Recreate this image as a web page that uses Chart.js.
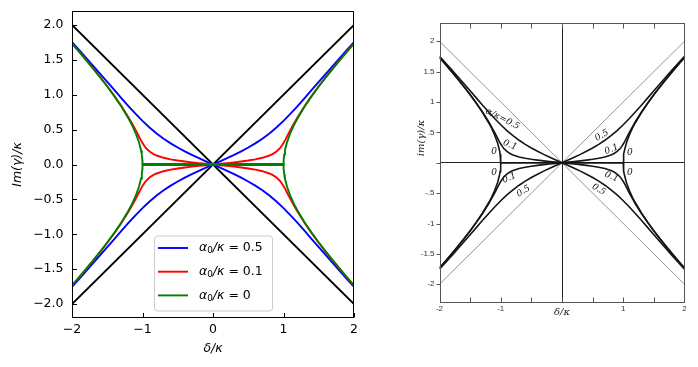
<!DOCTYPE html>
<html>
<head>
<meta charset="utf-8">
<script src="https://cdn.jsdelivr.net/npm/chart.js@4"></script>
<style>
  html, body { margin: 0; padding: 0; background: #fff; }
  #wrap { position: relative; width: 698px; height: 367px; }
  #leftBox { position: absolute; left: 0; top: 0; }
  #rightBox { position: absolute; left: 400px; top: 0; }
</style>
</head>
<body>
<div id="wrap">
  <div id="leftBox"><canvas id="leftChart" width="370" height="367"></canvas></div>
  <div id="rightBox"><canvas id="rightChart" width="298" height="367"></canvas></div>
</div>
<script>
// values for delta >= 0, upper branch;
// the curves are mirrored in delta and in +/- Im
const deltaBlue = [0, 0.1, 0.2, 0.3, 0.4, 0.5, 0.6, 0.7, 0.8, 0.9, 1.0, 1.1, 1.2, 1.3, 1.4, 1.5, 1.6, 1.7, 1.8, 1.9, 2.0];
const imBlue = [0, 0.045, 0.091, 0.138, 0.189, 0.243, 0.303, 0.370, 0.445, 0.530, 0.625, 0.728, 0.838, 0.952, 1.068, 1.184, 1.300, 1.415, 1.529, 1.642, 1.754];

const deltaRed = [0, 0.1, 0.2, 0.3, 0.4, 0.5, 0.6, 0.7, 0.8, 0.85, 0.9, 0.95, 0.975, 1.0, 1.025, 1.05, 1.1, 1.15, 1.2, 1.3, 1.4, 1.5, 1.6, 1.7, 1.8, 1.9, 2.0];
const imRed = [0, 0.010, 0.020, 0.031, 0.043, 0.057, 0.074, 0.096, 0.129, 0.153, 0.186, 0.235, 0.269, 0.308, 0.353, 0.401, 0.499, 0.592, 0.679, 0.839, 0.985, 1.122, 1.252, 1.377, 1.498, 1.617, 1.733];

const deltaGreen = [0, 1.0, 1.002, 1.01, 1.02, 1.05, 1.1, 1.15, 1.2, 1.3, 1.4, 1.5, 1.6, 1.7, 1.8, 1.9, 2.0];
const imGreen = [0, 0, 0.063, 0.142, 0.201, 0.320, 0.458, 0.568, 0.663, 0.831, 0.980, 1.118, 1.249, 1.375, 1.497, 1.616, 1.732];

const diagX = [-2, 2];
const diagRising = [-2, 2];
const diagFalling = [2, -2];

const alphaLabels = ['0.5', '0.1', '0'];
const curveColors = ['#0000ff', '#ff0000', '#008000'];

const xTicksLeft = [-2, -1, 0, 1, 2];
const yTicksLeft = [-2, -1.5, -1, -0.5, 0, 0.5, 1, 1.5, 2];
const xTicksRight = [-2, -1.5, -1, -0.5, 0, 0.5, 1, 1.5, 2];
const yTicksRight = [-2, -1.5, -1, -0.5, 0, 0.5, 1, 1.5, 2];

// labels written along the curves of the scanned figure
const curveNotes = [
  { text: 'α/κ=0.5', x: -0.97, y: 0.72, angle: 27 },
  { text: '0.1', x: -0.85, y: 0.29, angle: 22 },
  { text: '0', x: -1.11, y: 0.18, angle: 0 },
  { text: '0', x: -1.11, y: -0.17, angle: 0 },
  { text: '0.1', x: -0.86, y: -0.25, angle: -24 },
  { text: '0.5', x: -0.63, y: -0.47, angle: -30 },
  { text: '0.5', x: 0.65, y: 0.45, angle: -30 },
  { text: '0.1', x: 0.81, y: 0.22, angle: -22 },
  { text: '0', x: 1.11, y: 0.16, angle: 0 },
  { text: '0.1', x: 0.81, y: -0.23, angle: 22 },
  { text: '0', x: 1.11, y: -0.17, angle: 0 },
  { text: '0.5', x: 0.6, y: -0.44, angle: 30 },
];

const FONT = '"DejaVu Sans", sans-serif';

function branch(ds, vs, sign) {
  const pts = [];
  for (let i = ds.length - 1; i >= 0; i--) pts.push({ x: -ds[i], y: sign * vs[i] });
  for (let i = 1; i < ds.length; i++) pts.push({ x: ds[i], y: sign * vs[i] });
  return pts;
}

function pairs(xs, ys) {
  return xs.map((x, i) => ({ x: x, y: ys[i] }));
}

const curves = [
  [deltaBlue, imBlue],
  [deltaRed, imRed],
  [deltaGreen, imGreen],
];

function lineSet(data, color, width, order, label) {
  return {
    label: label || '',
    data: data,
    borderColor: color,
    borderWidth: width,
    pointRadius: 0,
    tension: 0,
    fill: false,
    order: order,
  };
}

// flat part of the alpha = 0 curve looks heavier in the reference
const flatSegment = {
  borderWidth: c => (c.p0.parsed.y === 0 && c.p1.parsed.y === 0 ? 2.8 : undefined)
};

function noEdgePadding(s) {
  s.paddingTop = 0; s.paddingBottom = 0; s.paddingLeft = 0; s.paddingRight = 0;
}

// ---------- left chart ----------
const leftSets = [];
curves.forEach(([ds, vs], i) => {
  const order = 2 - i; // green on top
  const up = lineSet(branch(ds, vs, 1), curveColors[i], 1.9, order, 'α0/κ = ' + alphaLabels[i]);
  const down = lineSet(branch(ds, vs, -1), curveColors[i], 1.9, order);
  if (i === 2) { up.segment = flatSegment; }
  leftSets.push(up, down);
});
leftSets.push(lineSet(pairs(diagX, diagRising), '#000', 1.9, 3));
leftSets.push(lineSet(pairs(diagX, diagFalling), '#000', 1.9, 3));

function fmtLeft(v, digits) {
  const s = Math.abs(v).toFixed(digits);
  return v < 0 ? '\u2212' + s : s;
}

const leftDecor = {
  id: 'leftDecor',
  afterDatasetsDraw(chart) {
    const { ctx, chartArea: a, scales: { x, y } } = chart;
    ctx.save();

    // legend, lower centre
    const w = 118, h = 75;
    const lx = (a.left + a.right) / 2 - w / 2;
    const ly = a.bottom - 7.5 - h;
    ctx.beginPath();
    ctx.roundRect(lx + 0.5, ly + 0.5, w, h, 3);
    ctx.fillStyle = 'rgba(255,255,255,0.8)';
    ctx.fill();
    ctx.strokeStyle = '#cccccc';
    ctx.lineWidth = 1;
    ctx.stroke();
    alphaLabels.forEach((val, i) => {
      const ry = ly + 12.5 + i * 23.7;
      ctx.strokeStyle = curveColors[i];
      ctx.lineWidth = 1.9;
      ctx.beginPath();
      ctx.moveTo(lx + 4, ry);
      ctx.lineTo(lx + 34, ry);
      ctx.stroke();
      ctx.fillStyle = '#000';
      ctx.textBaseline = 'middle';
      ctx.textAlign = 'left';
      let tx = lx + 45;
      ctx.font = 'italic 12.5px ' + FONT;
      ctx.fillText('α', tx, ry);
      tx += ctx.measureText('α').width;
      ctx.font = '8.8px ' + FONT;
      ctx.fillText('0', tx, ry + 3);
      tx += ctx.measureText('0').width;
      ctx.font = 'italic 12.5px ' + FONT;
      ctx.fillText('/κ', tx, ry);
      tx += ctx.measureText('/κ').width;
      ctx.font = '12.5px ' + FONT;
      ctx.fillText(' = ' + val, tx, ry);
    });

    // frame
    ctx.strokeStyle = '#000';
    ctx.lineWidth = 1;
    const L = Math.round(a.left) + 0.5, R = Math.round(a.right) - 0.5;
    const T = Math.round(a.top) + 0.5, B = Math.round(a.bottom) - 0.5;
    ctx.strokeRect(L, T, R - L, B - T);

    // inward ticks
    ctx.beginPath();
    x.ticks.forEach(t => {
      const px = Math.round(x.getPixelForValue(t.value)) + 0.5;
      ctx.moveTo(px, B);
      ctx.lineTo(px, B - 4.5);
    });
    y.ticks.forEach(t => {
      const py = Math.round(y.getPixelForValue(t.value)) + 0.5;
      ctx.moveTo(L, py);
      ctx.lineTo(L + 4.5, py);
    });
    ctx.stroke();
    ctx.restore();
  }
};

new Chart(document.getElementById('leftChart'), {
  type: 'line',
  data: { datasets: leftSets },
  options: {
    responsive: false,
    animation: false,
    layout: { padding: { top: 11, right: 16, left: 0, bottom: 0 } },
    plugins: { legend: { display: false }, tooltip: { enabled: false } },
    scales: {
      x: {
        type: 'linear', min: -2, max: 2,
        afterBuildTicks: s => { s.ticks = xTicksLeft.map(v => ({ value: v })); },
        afterFit: s => { s.height = 49; noEdgePadding(s); },
        grid: { drawOnChartArea: false, drawTicks: false },
        border: { display: false },
        ticks: { padding: 4, color: '#000', font: { family: FONT, size: 12.5 }, maxRotation: 0, autoSkip: false, callback: v => fmtLeft(v, 0) },
        title: { display: true, text: 'δ/κ', color: '#000', font: { family: FONT, size: 12.5, style: 'italic' }, padding: { top: 0, bottom: 10.5 } }
      },
      y: {
        type: 'linear', min: -2.2, max: 2.2,
        afterBuildTicks: s => { s.ticks = yTicksLeft.map(v => ({ value: v })); },
        afterFit: s => { s.width = 72; noEdgePadding(s); },
        grid: { drawOnChartArea: false, drawTicks: false },
        border: { display: false },
        ticks: { padding: 8.5, color: '#000', font: { family: FONT, size: 12.5 }, autoSkip: false, callback: v => fmtLeft(v, 1) },
        title: { display: true, text: 'Im(γ)/κ', color: '#000', font: { family: FONT, size: 12.5, style: 'italic' }, padding: { top: 10, bottom: 0 } }
      }
    }
  },
  plugins: [leftDecor]
});

// ---------- right chart (scanned original) ----------
const rightSets = [];
curves.forEach(([ds, vs]) => {
  rightSets.push(lineSet(branch(ds, vs, 1), '#151515', 1.6, 0));
  rightSets.push(lineSet(branch(ds, vs, -1), '#151515', 1.6, 0));
});
rightSets.push(lineSet(pairs(diagX, diagRising), '#8a8a8a', 0.9, 1));
rightSets.push(lineSet(pairs(diagX, diagFalling), '#8a8a8a', 0.9, 1));

function fmtRightY(v) {
  if (v === 0) return '';
  const s = Math.abs(v) < 1 ? String(Math.abs(v)).replace('0.', '.') : String(Math.abs(v));
  return v < 0 ? '-' + s : s;
}
function fmtRightX(v) {
  if (v === 0 || !Number.isInteger(v)) return '';
  return String(v);
}

const zeroLine = c => (c.tick && c.tick.value === 0 ? '#222' : 'rgba(0,0,0,0)');

const rightDecor = {
  id: 'rightDecor',
  afterDatasetsDraw(chart) {
    const { ctx, chartArea: a, scales: { x, y } } = chart;
    ctx.save();
    ctx.strokeStyle = '#555';
    ctx.lineWidth = 1;
    const L = Math.round(a.left) + 0.5, R = Math.round(a.right) - 0.5;
    const T = Math.round(a.top) + 0.5, B = Math.round(a.bottom) - 0.5;
    ctx.strokeRect(L, T, R - L, B - T);
    ctx.beginPath();
    x.ticks.forEach(t => {
      if (t.value === -2 || t.value === 2) return;
      const px = Math.round(x.getPixelForValue(t.value)) + 0.5;
      ctx.moveTo(px, B); ctx.lineTo(px, B - 5);
      ctx.moveTo(px, T); ctx.lineTo(px, T + 5);
    });
    y.ticks.forEach(t => {
      const py = Math.round(y.getPixelForValue(t.value)) + 0.5;
      ctx.moveTo(L - 4, py); ctx.lineTo(L, py);
    });
    ctx.stroke();

    ctx.fillStyle = '#111';
    ctx.textAlign = 'center';
    ctx.textBaseline = 'middle';
    ctx.font = 'italic 9px "DejaVu Serif", serif';
    curveNotes.forEach(n => {
      ctx.save();
      ctx.translate(x.getPixelForValue(n.x), y.getPixelForValue(n.y));
      ctx.rotate(n.angle * Math.PI / 180);
      ctx.fillText(n.text, 0, 0);
      ctx.restore();
    });

    ctx.fillStyle = '#222';
    ctx.font = 'italic 10px "DejaVu Serif", serif';
    ctx.fillText('δ/κ', x.getPixelForValue(0), 312);
    ctx.save();
    ctx.translate(21, 138);
    ctx.rotate(-Math.PI / 2);
    ctx.fillText('im(γ)/κ', 0, 0);
    ctx.restore();
    ctx.restore();
  }
};

new Chart(document.getElementById('rightChart'), {
  type: 'line',
  data: { datasets: rightSets },
  options: {
    responsive: false,
    animation: false,
    layout: { padding: { top: 23, right: 13.5, left: 0, bottom: 0 } },
    plugins: { legend: { display: false }, tooltip: { enabled: false } },
    scales: {
      x: {
        type: 'linear', min: -2, max: 2,
        afterBuildTicks: s => { s.ticks = xTicksRight.map(v => ({ value: v })); },
        afterFit: s => { s.height = 64.5; noEdgePadding(s); },
        grid: { drawOnChartArea: true, drawTicks: false, color: zeroLine, lineWidth: 1 },
        border: { display: false },
        ticks: { padding: 1, color: '#333', font: { family: '"Liberation Sans", sans-serif', size: 8 }, maxRotation: 0, autoSkip: false, callback: fmtRightX }
      },
      y: {
        type: 'linear', min: -2.3, max: 2.3,
        afterBuildTicks: s => { s.ticks = yTicksRight.map(v => ({ value: v })); },
        afterFit: s => { s.width = 39.5; noEdgePadding(s); },
        grid: { drawOnChartArea: true, drawTicks: false, color: zeroLine, lineWidth: 1 },
        border: { display: false },
        ticks: { padding: 5, color: '#333', font: { family: '"Liberation Sans", sans-serif', size: 8 }, autoSkip: false, callback: fmtRightY }
      }
    }
  },
  plugins: [rightDecor]
});
</script>
</body>
</html>
